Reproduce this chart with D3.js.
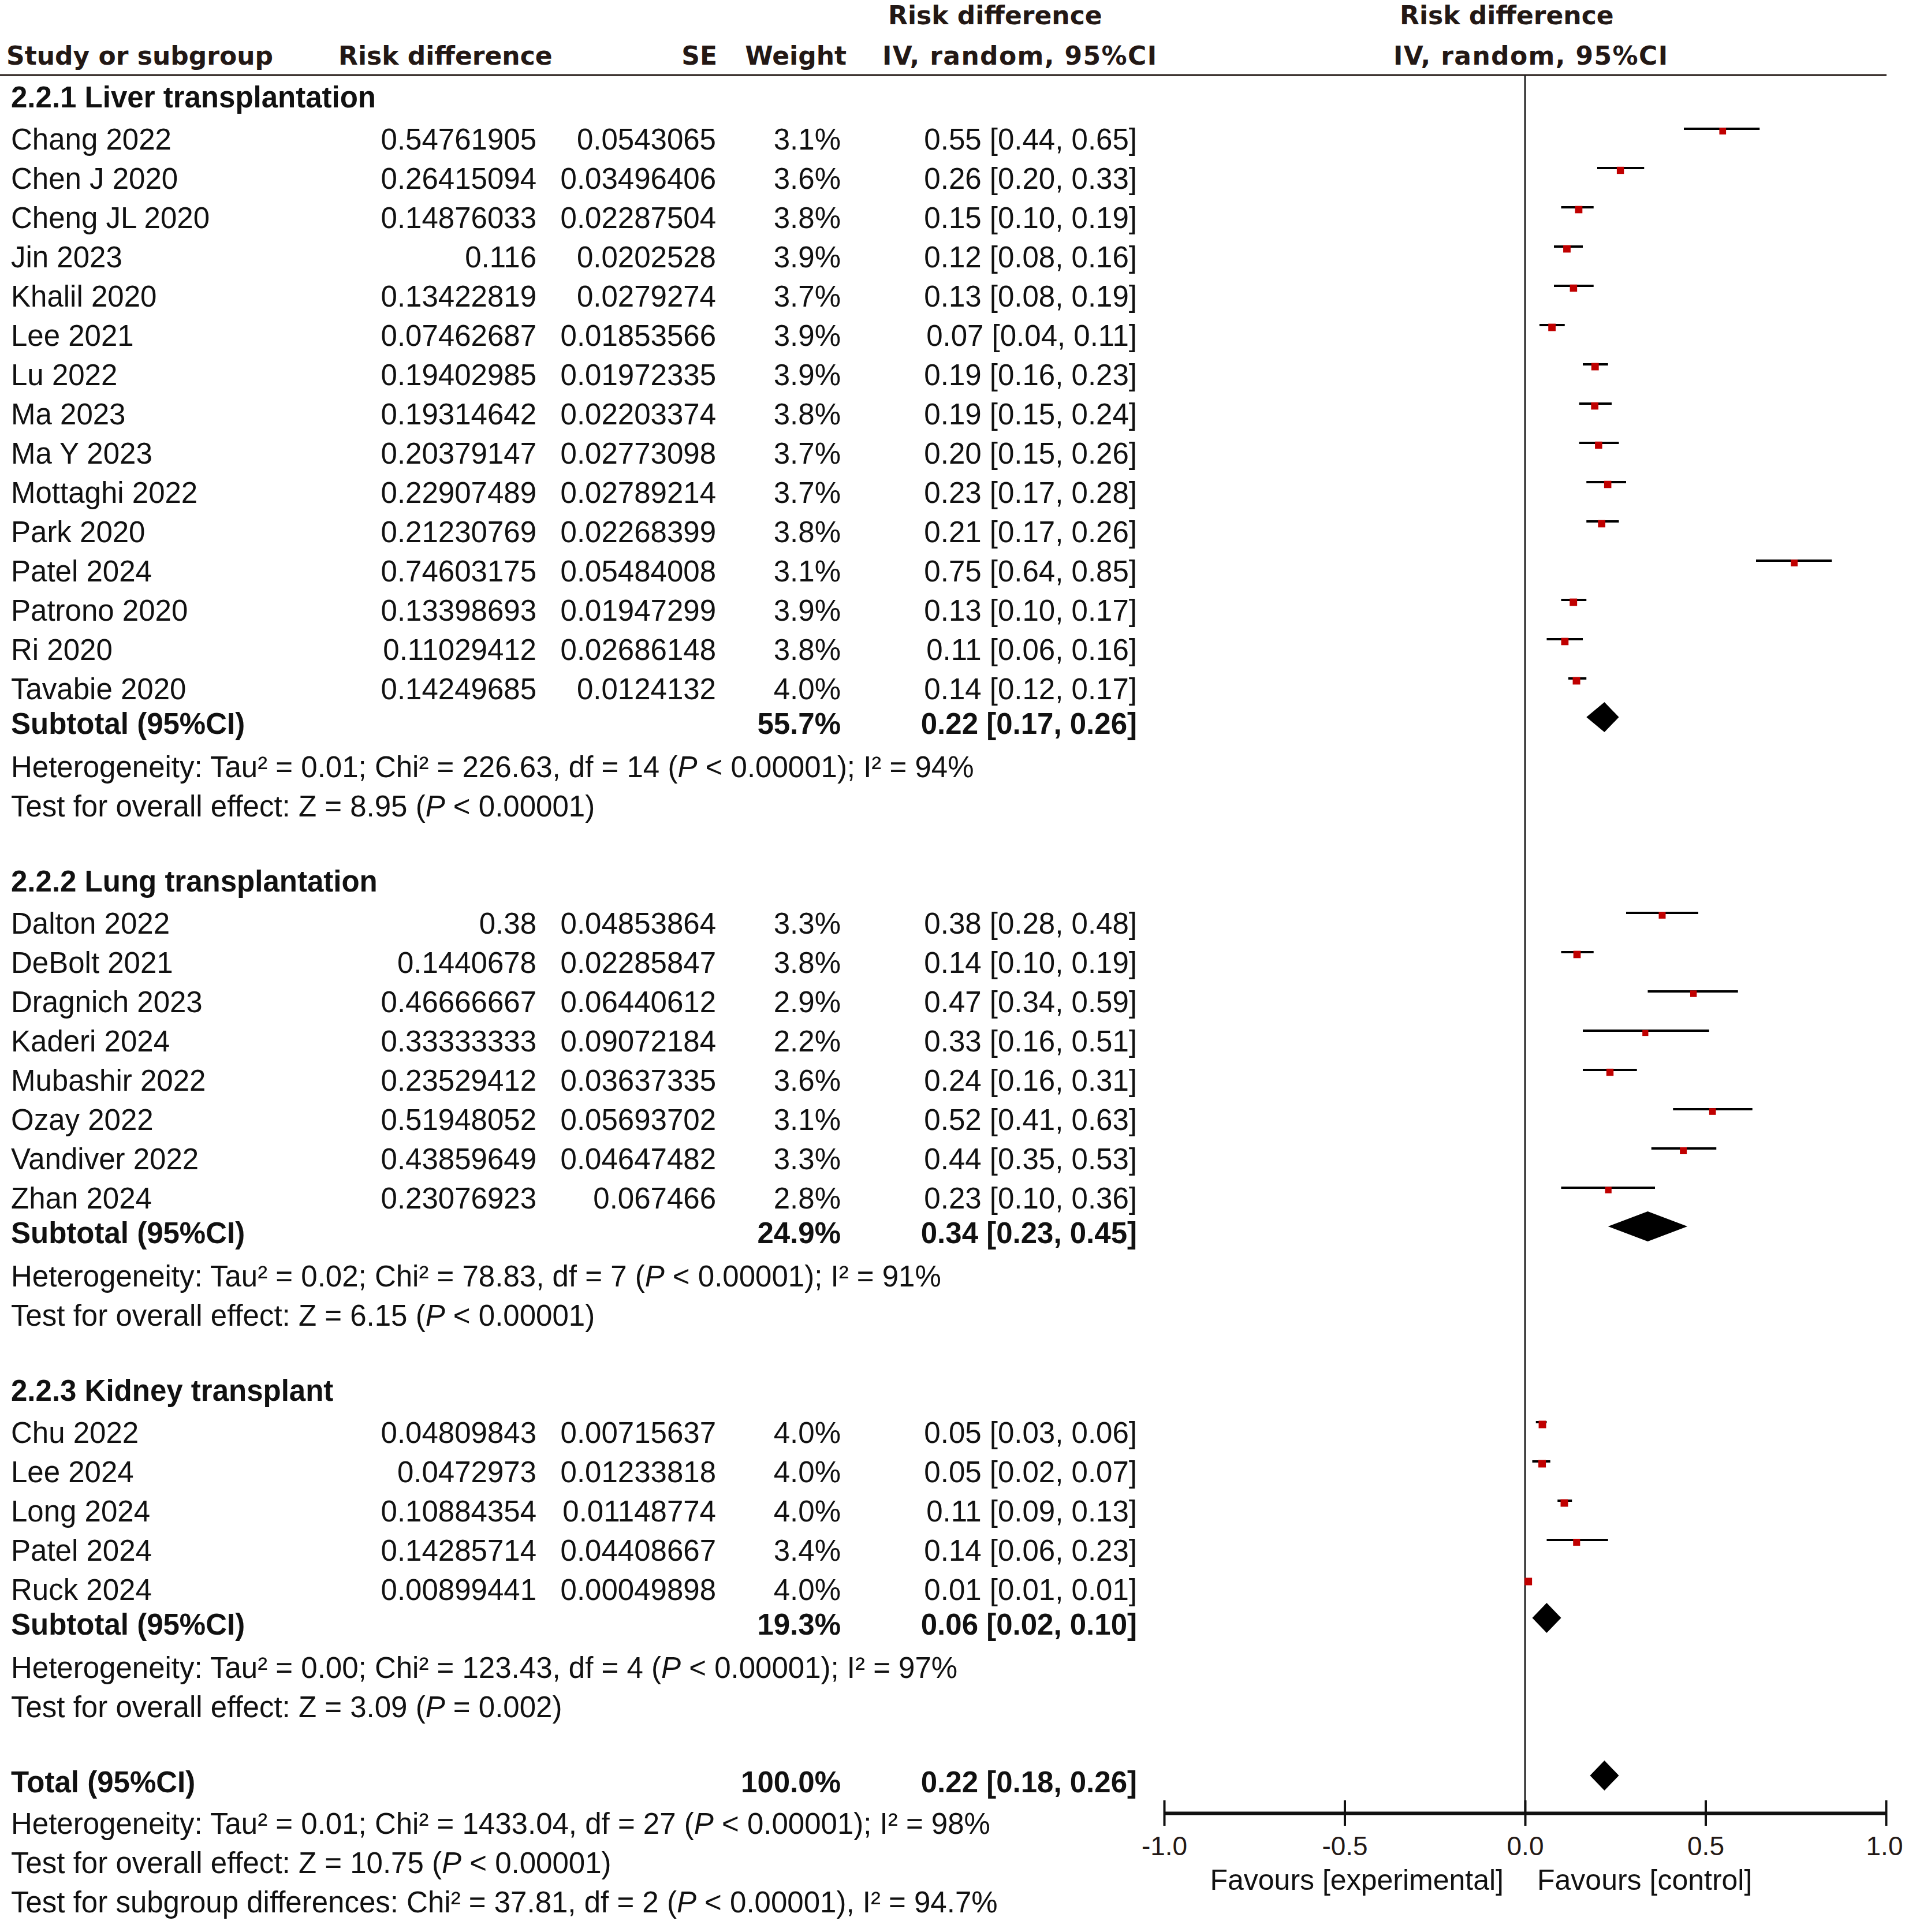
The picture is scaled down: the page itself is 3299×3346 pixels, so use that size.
<!DOCTYPE html>
<html>
<head>
<meta charset="utf-8">
<script src="https://cdnjs.cloudflare.com/ajax/libs/d3/7.8.5/d3.min.js"></script>
<style>
body { margin: 0; background: #fff; }
</style>
</head>
<body>
<div id="forest"></div>
<script>
// ---- data ----
var liverNames = ["Chang 2022", "Chen J 2020", "Cheng JL 2020", "Jin 2023", "Khalil 2020", "Lee 2021", "Lu 2022", "Ma 2023", "Ma Y 2023", "Mottaghi 2022", "Park 2020", "Patel 2024", "Patrono 2020", "Ri 2020", "Tavabie 2020"];
var liverRD = [0.54761905, 0.26415094, 0.14876033, 0.116, 0.13422819, 0.07462687, 0.19402985, 0.19314642, 0.20379147, 0.22907489, 0.21230769, 0.74603175, 0.13398693, 0.11029412, 0.14249685];
var liverSE = [0.0543065, 0.03496406, 0.02287504, 0.0202528, 0.0279274, 0.01853566, 0.01972335, 0.02203374, 0.02773098, 0.02789214, 0.02268399, 0.05484008, 0.01947299, 0.02686148, 0.0124132];
var liverWeight = [3.1, 3.6, 3.8, 3.9, 3.7, 3.9, 3.9, 3.8, 3.7, 3.7, 3.8, 3.1, 3.9, 3.8, 4.0];
var liverEst = [0.55, 0.26, 0.15, 0.12, 0.13, 0.07, 0.19, 0.19, 0.20, 0.23, 0.21, 0.75, 0.13, 0.11, 0.14];
var liverLo = [0.44, 0.20, 0.10, 0.08, 0.08, 0.04, 0.16, 0.15, 0.15, 0.17, 0.17, 0.64, 0.10, 0.06, 0.12];
var liverHi = [0.65, 0.33, 0.19, 0.16, 0.19, 0.11, 0.23, 0.24, 0.26, 0.28, 0.26, 0.85, 0.17, 0.16, 0.17];

var lungNames = ["Dalton 2022", "DeBolt 2021", "Dragnich 2023", "Kaderi 2024", "Mubashir 2022", "Ozay 2022", "Vandiver 2022", "Zhan 2024"];
var lungRD = [0.38, 0.1440678, 0.46666667, 0.33333333, 0.23529412, 0.51948052, 0.43859649, 0.23076923];
var lungSE = [0.04853864, 0.02285847, 0.06440612, 0.09072184, 0.03637335, 0.05693702, 0.04647482, 0.067466];
var lungWeight = [3.3, 3.8, 2.9, 2.2, 3.6, 3.1, 3.3, 2.8];
var lungEst = [0.38, 0.14, 0.47, 0.33, 0.24, 0.52, 0.44, 0.23];
var lungLo = [0.28, 0.10, 0.34, 0.16, 0.16, 0.41, 0.35, 0.10];
var lungHi = [0.48, 0.19, 0.59, 0.51, 0.31, 0.63, 0.53, 0.36];

var kidneyNames = ["Chu 2022", "Lee 2024", "Long 2024", "Patel 2024", "Ruck 2024"];
var kidneyRD = [0.04809843, 0.0472973, 0.10884354, 0.14285714, 0.00899441];
var kidneySE = [0.00715637, 0.01233818, 0.01148774, 0.04408667, 0.00049898];
var kidneyWeight = [4.0, 4.0, 4.0, 3.4, 4.0];
var kidneyEst = [0.05, 0.05, 0.11, 0.14, 0.01];
var kidneyLo = [0.03, 0.02, 0.09, 0.06, 0.01];
var kidneyHi = [0.06, 0.07, 0.13, 0.23, 0.01];

var subgroupTitles = ["2.2.1 Liver transplantation", "2.2.2 Lung transplantation", "2.2.3 Kidney transplant"];
var subtotalWeight = [55.7, 24.9, 19.3];
var subtotalEst = [0.22, 0.34, 0.06];
var subtotalLo = [0.17, 0.23, 0.02];
var subtotalHi = [0.26, 0.45, 0.10];

// *P* marks the italic P
var hetNotes = [
    "Heterogeneity: Tau² = 0.01; Chi² = 226.63, df = 14 (*P* < 0.00001); I² = 94%",
    "Heterogeneity: Tau² = 0.02; Chi² = 78.83, df = 7 (*P* < 0.00001); I² = 91%",
    "Heterogeneity: Tau² = 0.00; Chi² = 123.43, df = 4 (*P* < 0.00001); I² = 97%"
];
var effectNotes = [
    "Test for overall effect: Z = 8.95 (*P* < 0.00001)",
    "Test for overall effect: Z = 6.15 (*P* < 0.00001)",
    "Test for overall effect: Z = 3.09 (*P* = 0.002)"
];

var totalWeight = 100.0;
var totalEst = 0.22;
var totalLo = 0.18;
var totalHi = 0.26;
var totalNotes = [
    "Heterogeneity: Tau² = 0.01; Chi² = 1433.04, df = 27 (*P* < 0.00001); I² = 98%",
    "Test for overall effect: Z = 10.75 (*P* < 0.00001)",
    "Test for subgroup differences: Chi² = 37.81, df = 2 (*P* < 0.00001), I² = 94.7%"
];

var tickValues = [-1, -0.5, 0, 0.5, 1];
var favourLabels = ["Favours [experimental]", "Favours [control]"];

// ---- setup ----
var svgWidth = 3299;
var svgHeight = 3346;

var bodyFont = "'Liberation Sans', Arial, sans-serif";
var headFont = "'DejaVu Sans', Verdana, sans-serif";
var ink = "#111";
var headInk = "#231815";

var svg = d3.select("#forest")
    .append("svg")
    .attr("width", svgWidth)
    .attr("height", svgHeight);

svg.append("rect").attr("width", svgWidth).attr("height", svgHeight).attr("fill", "#fff");

var x = d3.scaleLinear().domain([-1, 1]).range([2016, 3266]);
var fmt2 = d3.format(".2f");
var fmtW = function(w) { return d3.format(".1f")(w) + "%"; };
var ciText = function(e, l, h) { return fmt2(e) + " [" + fmt2(l) + ", " + fmt2(h) + "]"; };

var groups = [
    {names: liverNames, rd: liverRD, se: liverSE, w: liverWeight, est: liverEst, lo: liverLo, hi: liverHi},
    {names: lungNames, rd: lungRD, se: lungSE, w: lungWeight, est: lungEst, lo: lungLo, hi: lungHi},
    {names: kidneyNames, rd: kidneyRD, se: kidneySE, w: kidneyWeight, est: kidneyEst, lo: kidneyLo, hi: kidneyHi}
];

// build the list of rows with their vertical position
var rows = [];
var cy = 168;
groups.forEach(function(g, gi) {
    if (gi > 0) cy += 130;
    rows.push({kind: "title", y: cy, text: subgroupTitles[gi]});
    cy += 73;
    g.names.forEach(function(n, i) {
        if (i > 0) cy += 68;
        rows.push({kind: "study", y: cy, name: n, rd: g.rd[i], se: g.se[i], w: g.w[i], est: g.est[i], lo: g.lo[i], hi: g.hi[i]});
    });
    cy += 60;
    rows.push({kind: "sub", y: cy, name: "Subtotal (95%CI)", w: subtotalWeight[gi], est: subtotalEst[gi], lo: subtotalLo[gi], hi: subtotalHi[gi]});
    cy += 75;
    rows.push({kind: "note", y: cy, text: hetNotes[gi]});
    cy += 68;
    rows.push({kind: "note", y: cy, text: effectNotes[gi]});
});
cy += 130;
rows.push({kind: "sub", y: cy, name: "Total (95%CI)", w: totalWeight, est: totalEst, lo: totalLo, hi: totalHi});
cy += 72;
totalNotes.forEach(function(t, i) {
    if (i > 0) cy += 68;
    rows.push({kind: "note", y: cy, text: t});
});

// ---- header ----
var head = svg.append("g")
    .attr("font-family", headFont)
    .attr("font-weight", "bold")
    .attr("font-size", 44)
    .attr("fill", headInk);

head.append("text").attr("x", 11).attr("y", 112).text("Study or subgroup");
head.append("text").attr("x", 586).attr("y", 112).text("Risk difference");
head.append("text").attr("x", 1242).attr("y", 112).attr("text-anchor", "end").text("SE");
head.append("text").attr("x", 1466).attr("y", 112).attr("text-anchor", "end").text("Weight");
head.append("text").attr("x", 1538).attr("y", 42).text("Risk difference");
head.append("text").attr("x", 1528).attr("y", 112).text("IV, random, 95%CI").attr("textLength", 475);
head.append("text").attr("x", 2424).attr("y", 42).text("Risk difference");
head.append("text").attr("x", 2413).attr("y", 112).text("IV, random, 95%CI").attr("textLength", 475);

svg.append("line")
    .attr("x1", 0).attr("x2", 3267)
    .attr("y1", 130).attr("y2", 130)
    .attr("stroke", "#231815")
    .attr("stroke-width", 3);

// ---- table text ----
var table = svg.append("g")
    .attr("font-family", bodyFont)
    .attr("font-size", 51)
    .attr("fill", ink);

var base = function(d) { return d.y + 18; };

table.selectAll("text.title")
    .data(rows.filter(function(d) { return d.kind === "title"; }))
    .enter()
    .append("text")
    .attr("class", "title")
    .attr("x", 19)
    .attr("y", base)
    .attr("font-weight", "bold")
    .text(function(d) { return d.text; });

var studyRows = rows.filter(function(d) { return d.kind === "study"; });
var subRows = rows.filter(function(d) { return d.kind === "sub"; });

function column(data, cls, xPos, anchor, bold, fn) {
    table.selectAll("text." + cls)
        .data(data)
        .enter()
        .append("text")
        .attr("class", cls)
        .attr("x", xPos)
        .attr("y", base)
        .attr("text-anchor", anchor)
        .attr("font-weight", bold ? "bold" : "normal")
        .text(fn);
}

column(studyRows, "name", 19, "start", false, function(d) { return d.name; });
column(studyRows, "rd", 929, "end", false, function(d) { return String(d.rd); });
column(studyRows, "se", 1240, "end", false, function(d) { return String(d.se); });
column(studyRows, "w", 1456, "end", false, function(d) { return fmtW(d.w); });
column(studyRows, "ci", 1969, "end", false, function(d) { return ciText(d.est, d.lo, d.hi); });

column(subRows, "sname", 19, "start", true, function(d) { return d.name; });
column(subRows, "sw", 1456, "end", true, function(d) { return fmtW(d.w); });
column(subRows, "sci", 1969, "end", true, function(d) { return ciText(d.est, d.lo, d.hi); });

// notes with the italic P
var notes = table.selectAll("text.note")
    .data(rows.filter(function(d) { return d.kind === "note"; }))
    .enter()
    .append("text")
    .attr("class", "note")
    .attr("x", 19)
    .attr("y", base);

notes.each(function(d) {
    var t = d3.select(this);
    d.text.split("*").forEach(function(part, i) {
        t.append("tspan")
            .attr("font-style", i % 2 === 1 ? "italic" : "normal")
            .text(part);
    });
});

// ---- forest plot ----
var axisY = 3140;
var plot = svg.append("g");

plot.append("line")
    .attr("x1", x(0)).attr("x2", x(0))
    .attr("y1", 130).attr("y2", axisY)
    .attr("stroke", "#222")
    .attr("stroke-width", 3);

plot.selectAll("line.ci")
    .data(studyRows)
    .enter()
    .append("line")
    .attr("class", "ci")
    .attr("x1", function(d) { return x(d.lo); })
    .attr("x2", function(d) { return x(d.hi); })
    .attr("y1", function(d) { return d.y - 18; })
    .attr("y2", function(d) { return d.y - 18; })
    .attr("stroke", "#000")
    .attr("stroke-width", 4);

// square size grows a little with weight
var side = function(d) { return 7 + 1.5 * d.w; };
plot.selectAll("rect.pt")
    .data(studyRows)
    .enter()
    .append("rect")
    .attr("class", "pt")
    .attr("width", side)
    .attr("height", side)
    .attr("x", function(d) { return x(d.rd) - side(d) / 2; })
    .attr("y", function(d) { return d.y - 14 - side(d) / 2; })
    .attr("fill", "#c00000");

plot.selectAll("path.diamond")
    .data(subRows)
    .enter()
    .append("path")
    .attr("class", "diamond")
    .attr("d", function(d) {
        var c = d.y - 11, h = 26;
        return "M" + x(d.lo) + "," + c + "L" + x(d.est) + "," + (c - h) +
            "L" + x(d.hi) + "," + c + "L" + x(d.est) + "," + (c + h) + "Z";
    })
    .attr("fill", "#000");

// axis
var axis = d3.axisBottom(x)
    .tickValues(tickValues)
    .tickSizeOuter(0)
    .tickFormat(function(d) { return d.toFixed(1); });

var axisG = plot.append("g")
    .attr("transform", "translate(0," + axisY + ")")
    .call(axis);

axisG.select(".domain").attr("stroke", "#111").attr("stroke-width", 6);
axisG.selectAll(".tick line")
    .attr("y1", -22).attr("y2", 22)
    .attr("stroke", "#111")
    .attr("stroke-width", 4);
axisG.selectAll(".tick text")
    .attr("y", 73)
    .attr("dy", 0)
    .attr("font-family", bodyFont)
    .attr("font-size", 46)
    .attr("fill", headInk);
// keep the last label inside the page
axisG.selectAll(".tick text")
    .filter(function(d) { return d === 1; })
    .attr("dx", -3);

plot.append("text")
    .attr("x", 2604).attr("y", 3273)
    .attr("text-anchor", "end")
    .attr("font-family", bodyFont).attr("font-size", 50).attr("fill", ink)
    .text(favourLabels[0]);
plot.append("text")
    .attr("x", 2662).attr("y", 3273)
    .attr("font-family", bodyFont).attr("font-size", 50).attr("fill", ink)
    .text(favourLabels[1]);
</script>
</body>
</html>
